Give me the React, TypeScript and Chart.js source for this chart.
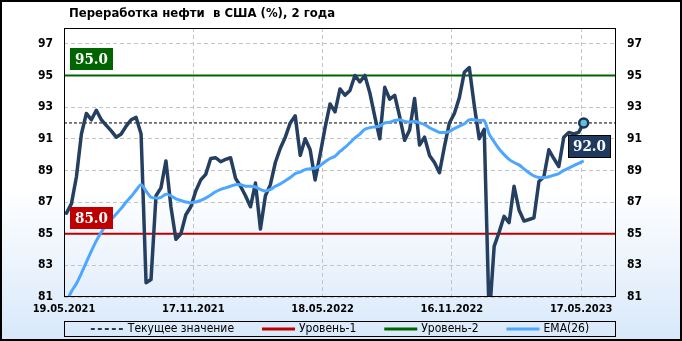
import { useEffect, useRef } from "react";
import { Chart, registerables } from "chart.js";

Chart.register(...registerables);

// ---------- data ----------
const TITLE = "Переработка нефти  в США (%), 2 года";
const X_TICK_POS = [0, 26, 52, 78, 104];
const X_TICK_LABELS = ["19.05.2021", "17.11.2021", "18.05.2022", "16.11.2022", "17.05.2023"];
const Y_TICKS = [81, 83, 85, 87, 89, 91, 93, 95, 97];
const Y_MIN = 81;
const Y_MAX = 98;
const X_MIN = 0;
const X_MAX = 111;

const UTILIZATION = [
  86.3, 86.9, 88.6, 91.3, 92.6, 92.2, 92.8, 92.2, 91.85, 91.5,
  91.1, 91.3, 91.8, 92.2, 92.35, 91.3, 81.9, 82.1, 87.4, 87.9,
  89.6, 86.7, 84.65, 85.0, 86.2, 86.7, 87.7, 88.4, 88.75, 89.75,
  89.8, 89.55, 89.7, 89.8, 88.5, 88.0, 87.4, 86.7, 88.2, 85.3,
  87.4, 88.1, 89.5, 90.4, 91.1, 92.0, 92.45, 89.95, 91.0, 90.3,
  88.4, 90.0, 91.7, 93.2, 92.7, 94.15, 93.75, 94.05, 95.0, 94.6,
  95.0, 93.9, 92.4, 91.0, 94.25, 93.5, 93.75, 92.4, 90.9, 91.55,
  93.55, 90.6, 91.1, 89.95, 89.5, 88.85, 90.5, 92.0, 92.6, 93.6,
  95.2, 95.5, 93.1, 91.0, 91.6, 79.6, 84.2, 85.1, 86.1, 85.7,
  88.0, 86.5, 85.8, 85.9, 86.0, 88.3, 88.6, 90.3, 89.75, 89.25,
  91.1, 91.4, 91.3, 91.4, 92.0,
];

const EMA26 = [
  80.7, 81.35, 81.85, 82.5, 83.2, 83.9, 84.55, 85.1, 85.55, 85.9,
  86.25, 86.6, 87.0, 87.35, 87.75, 88.1, 87.7, 87.3, 87.25, 87.3,
  87.5, 87.4, 87.2, 87.1, 87.0, 86.95, 87.0, 87.1, 87.25, 87.45,
  87.65, 87.8, 87.9, 88.0, 88.1, 88.1, 88.0, 88.0, 87.95, 87.8,
  87.7, 87.8, 88.0, 88.15, 88.35, 88.55, 88.8, 88.9, 89.05, 89.1,
  89.15, 89.3, 89.55, 89.75, 89.9, 90.2, 90.45, 90.75, 91.05, 91.3,
  91.6, 91.7, 91.75, 91.8, 92.0, 92.05, 92.15, 92.2, 92.1, 92.05,
  92.1, 92.0, 91.9, 91.7, 91.55, 91.4, 91.4, 91.45, 91.65, 91.8,
  91.95, 92.2, 92.2, 92.15, 92.15, 91.3, 90.8, 90.35, 90.0, 89.7,
  89.5, 89.35, 89.1, 88.85, 88.65, 88.55, 88.55, 88.6, 88.7, 88.8,
  89.0, 89.15, 89.3, 89.45, 89.6,
];

const CURRENT = 92.0;
const LEVEL_1 = 85.0;
const LEVEL_2 = 95.0;

const SERIES_LABELS = ["Переработка", "EMA(26)", "Текущее значение", "Уровень-1", "Уровень-2", "last"];
const LEGEND_ORDER = [2, 3, 4, 1];

// ---------- styles ----------
const SANS = "'DejaVu Sans Condensed', 'DejaVu Sans', sans-serif";
const SERIF = "'DejaVu Serif Condensed', 'DejaVu Serif', serif";
const C_MAIN = "#243f60";
const C_EMA = "#4da6ff";
const C_RED = "#c00000";
const C_GREEN = "#006400";
const C_NAVY = "#1f3a5f";

export default function App() {
  const ref = useRef<HTMLCanvasElement>(null);

  useEffect(() => {
    document.body.style.margin = "0";
    const canvas = ref.current!;
    const pts = (arr: number[]) => arr.map((v, i) => ({ x: i + 0.5, y: v }));
    const hline = (v: number) => [
      { x: X_MIN, y: v },
      { x: X_MAX, y: v },
    ];
    const lastIdx = UTILIZATION.length - 1;

    const bgPlugin = {
      id: "bg",
      beforeDraw(chart: any) {
        const { ctx, width, height } = chart;
        const g = ctx.createLinearGradient(0, 0, 0, height);
        g.addColorStop(0, "#ffffff");
        g.addColorStop(0.55, "#ffffff");
        g.addColorStop(1, "#d8e8fa");
        ctx.save();
        ctx.fillStyle = g;
        ctx.fillRect(0, 0, width, height);
        ctx.restore();
      },
    };

    const overlayPlugin = {
      id: "overlay",
      afterDatasetsDraw(chart: any) {
        const { ctx, chartArea: a, scales } = chart;
        const ys = scales.y;
        ctx.save();
        ctx.font = `bold 15px ${SERIF}`;
        ctx.textAlign = "center";
        ctx.textBaseline = "middle";
        const levels: [number, string][] = [
          [LEVEL_2, C_GREEN],
          [LEVEL_1, C_RED],
        ];
        for (const [lv, col] of levels) {
          const txt = lv.toFixed(1);
          const py = ys.getPixelForValue(lv);
          const w = Math.round(ctx.measureText(txt).width + 10);
          const h = 22;
          const left = a.left + 6;
          const top = Math.round(py - 5 - h);
          ctx.fillStyle = col;
          ctx.fillRect(left, top, w, h);
          ctx.fillStyle = "#ffffff";
          ctx.fillText(txt, left + w / 2, top + h / 2 + 1);
        }
        // current value box
        const pt = chart.getDatasetMeta(5).data[0];
        if (pt) {
          const txt = CURRENT.toFixed(1);
          const w = Math.round(ctx.measureText(txt).width + 10);
          const h = 23;
          const left = Math.round(pt.x - 15.5);
          const top = Math.round(pt.y + 12.5);
          ctx.fillStyle = C_NAVY;
          ctx.fillRect(left, top, w, h);
          ctx.strokeStyle = "#000000";
          ctx.lineWidth = 1;
          ctx.strokeRect(left + 0.5, top + 0.5, w - 1, h - 1);
          ctx.fillStyle = "#ffffff";
          ctx.fillText(txt, left + w / 2, top + h / 2 + 1);
        }
        ctx.restore();
      },
      afterDraw(chart: any) {
        const { ctx, chartArea: a, width, height } = chart;
        ctx.save();
        // plot frame
        ctx.strokeStyle = "#000000";
        ctx.lineWidth = 1;
        ctx.setLineDash([]);
        ctx.strokeRect(a.left + 0.5, a.top + 0.5, a.right - a.left - 1, a.bottom - a.top - 1);
        // title
        ctx.fillStyle = "#000000";
        ctx.font = `bold 13px ${SANS}`;
        ctx.textAlign = "left";
        ctx.textBaseline = "middle";
        ctx.fillText(TITLE, 69, 14);
        // legend
        ctx.font = `12px ${SANS}`;
        const SAMPLE = 33;
        const TXT_GAP = 4;
        const ITEM_GAP = 28;
        const ds = chart.data.datasets;
        const widths = LEGEND_ORDER.map((i) => SAMPLE + TXT_GAP + ctx.measureText(ds[i].label).width);
        const total = widths.reduce((s, w) => s + w, 0) + ITEM_GAP * (widths.length - 1);
        let x = (a.left + a.right) / 2 - total / 2;
        const boxTop = a.bottom + 24;
        const boxH = 15;
        const cy = boxTop + boxH / 2 + 0.5;
        ctx.strokeStyle = "#000000";
        ctx.lineWidth = 1;
        ctx.strokeRect(a.left + 0.5, boxTop + 0.5, a.right - a.left - 1, boxH);
        LEGEND_ORDER.forEach((i, k) => {
          const d = ds[i];
          ctx.save();
          const dashed = d.borderDash && d.borderDash.length;
          ctx.setLineDash(dashed ? [4, 3] : []);
          ctx.lineWidth = dashed ? 1.5 : 3;
          ctx.strokeStyle = d.borderColor;
          ctx.beginPath();
          ctx.moveTo(x, cy);
          ctx.lineTo(x + SAMPLE, cy);
          ctx.stroke();
          ctx.restore();
          ctx.fillStyle = "#000000";
          ctx.textAlign = "left";
          ctx.textBaseline = "middle";
          ctx.fillText(d.label, x + SAMPLE + TXT_GAP, cy);
          x += widths[k] + ITEM_GAP;
        });
        // outer border
        ctx.lineWidth = 2;
        ctx.strokeRect(1, 1, width - 2, height - 2);
        ctx.restore();
      },
    };

    const tickFont = { family: SANS, size: 12, weight: "bold" as const };
    const xTickFont = { family: SANS, size: 11, weight: "bold" as const };

    const chart = new Chart(canvas, {
      type: "line",
      data: {
        datasets: [
          {
            label: SERIES_LABELS[0],
            data: pts(UTILIZATION),
            borderColor: C_MAIN,
            borderWidth: 3.5,
            pointRadius: 0,
            tension: 0,
            borderJoinStyle: "round",
            borderCapStyle: "round",
            clip: 0,
            order: 2,
          },
          {
            label: SERIES_LABELS[1],
            data: pts(EMA26),
            borderColor: C_EMA,
            borderWidth: 3,
            pointRadius: 0,
            tension: 0.3,
            clip: 0,
            order: 1,
          },
          {
            label: SERIES_LABELS[2],
            data: hline(CURRENT),
            borderColor: "#000000",
            borderWidth: 1,
            borderDash: [3, 2],
            pointRadius: 0,
            order: 3,
          },
          {
            label: SERIES_LABELS[3],
            data: hline(LEVEL_1),
            borderColor: C_RED,
            borderWidth: 2,
            pointRadius: 0,
            order: 3,
          },
          {
            label: SERIES_LABELS[4],
            data: hline(LEVEL_2),
            borderColor: C_GREEN,
            borderWidth: 2,
            pointRadius: 0,
            order: 3,
          },
          {
            label: SERIES_LABELS[5],
            data: [{ x: lastIdx + 0.5, y: UTILIZATION[lastIdx] }],
            borderColor: C_MAIN,
            backgroundColor: "#66bedc",
            pointRadius: 4.5,
            pointBorderWidth: 2.5,
            pointBorderColor: "#1b3556",
            pointBackgroundColor: "#66bedc",
            showLine: false,
            clip: false as any,
            order: 0,
          },
        ],
      },
      options: {
        animation: false,
        responsive: false,
        maintainAspectRatio: false,
        layout: { padding: { top: 28, bottom: 22, left: 0, right: 0 } },
        plugins: {
          legend: { display: false },
          title: { display: false },
          tooltip: { enabled: false },
        },
        scales: {
          x: {
            type: "linear",
            min: X_MIN,
            max: X_MAX,
            afterBuildTicks: (s: any) => {
              s.ticks = X_TICK_POS.map((v) => ({ value: v }));
            },
            afterFit: (s: any) => {
              s.height = 22;
            },
            ticks: {
              autoSkip: false,
              maxRotation: 0,
              minRotation: 0,
              padding: 6,
              color: "#000000",
              font: xTickFont,
              callback: (v: any) => X_TICK_LABELS[X_TICK_POS.indexOf(Number(v))] ?? "",
            },
            grid: { color: "#c4c4c4", lineWidth: 1, drawTicks: false },
            border: { display: false, dash: [4, 3] },
          },
          y: {
            type: "linear",
            position: "left",
            min: Y_MIN,
            max: Y_MAX,
            afterBuildTicks: (s: any) => {
              s.ticks = Y_TICKS.map((v) => ({ value: v }));
            },
            afterFit: (s: any) => {
              s.width = 64;
            },
            ticks: {
              padding: 11,
              color: "#000000",
              font: tickFont,
              callback: (v: any) => String(v),
            },
            grid: { color: "#c4c4c4", lineWidth: 1, drawTicks: false },
            border: { display: false, dash: [4, 3] },
          },
          y2: {
            type: "linear",
            position: "right",
            min: Y_MIN,
            max: Y_MAX,
            afterBuildTicks: (s: any) => {
              s.ticks = Y_TICKS.map((v) => ({ value: v }));
            },
            afterFit: (s: any) => {
              s.width = 66;
            },
            ticks: {
              padding: 11,
              color: "#000000",
              font: tickFont,
              callback: (v: any) => String(v),
            },
            grid: { display: false, drawTicks: false },
            border: { display: false },
          },
        },
      },
      plugins: [bgPlugin, overlayPlugin],
    } as any);

    return () => chart.destroy();
  }, []);

  return (
    <div style={{ width: 682, height: 341 }}>
      <canvas ref={ref} width={682} height={341} style={{ display: "block" }} />
    </div>
  );
}
